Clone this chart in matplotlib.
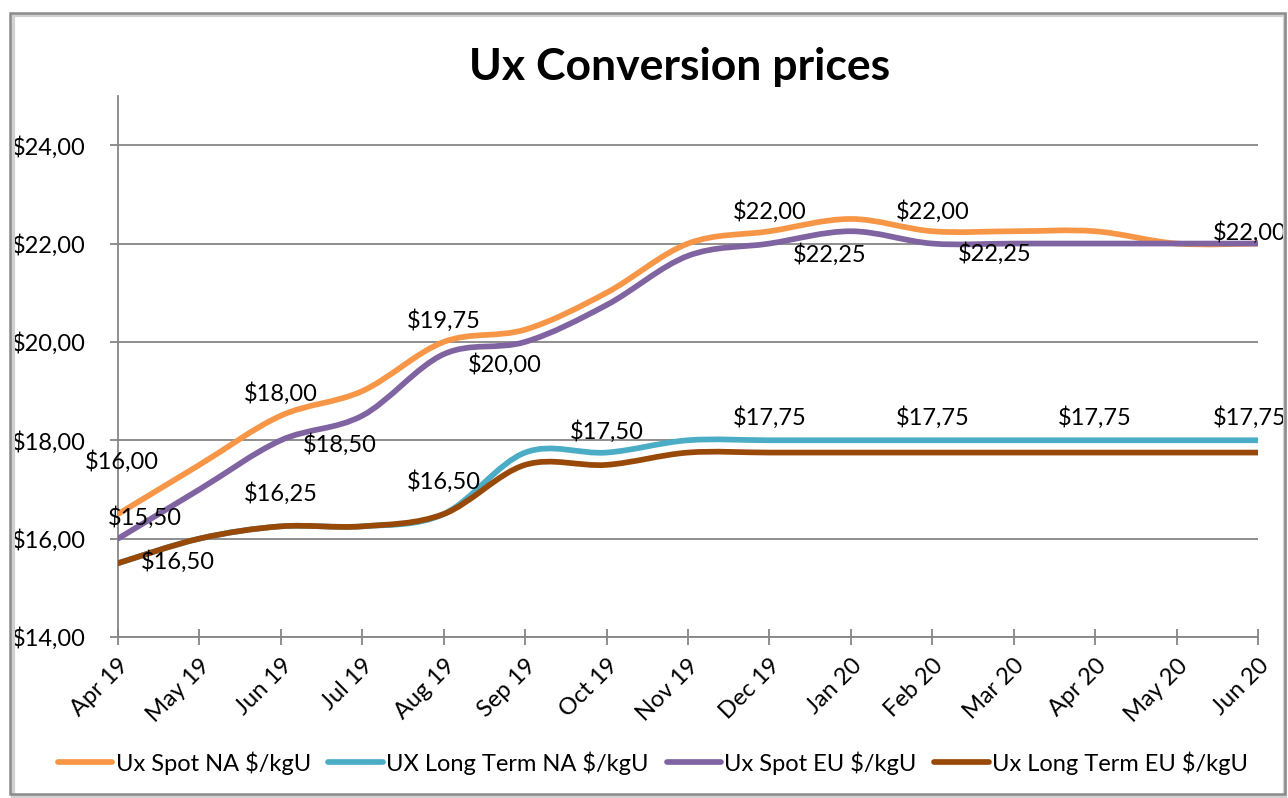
import matplotlib
matplotlib.use("Agg")
import matplotlib.pyplot as plt
from matplotlib.path import Path
from matplotlib.patches import PathPatch, Rectangle
from matplotlib.lines import Line2D
from matplotlib.ticker import FuncFormatter, FixedLocator

plt.rcParams["font.family"] = ["Lato", "DejaVu Sans"]

months = ["Apr 19", "May 19", "Jun 19", "Jul 19", "Aug 19", "Sep 19", "Oct 19",
          "Nov 19", "Dec 19", "Jan 20", "Feb 20", "Mar 20", "Apr 20", "May 20", "Jun 20"]

spot_na = [16.50, 17.50, 18.50, 19.00, 20.00, 20.25, 21.00, 22.00,
           22.25, 22.50, 22.25, 22.25, 22.25, 22.00, 22.00]
lt_na = [15.50, 16.00, 16.25, 16.25, 16.50, 17.75, 17.75, 18.00,
         18.00, 18.00, 18.00, 18.00, 18.00, 18.00, 18.00]
spot_eu = [16.00, 17.00, 18.00, 18.50, 19.75, 20.00, 20.75, 21.75,
           22.00, 22.25, 22.00, 22.00, 22.00, 22.00, 22.00]
lt_eu = [15.50, 16.00, 16.25, 16.25, 16.50, 17.50, 17.50, 17.75,
         17.75, 17.75, 17.75, 17.75, 17.75, 17.75, 17.75]

series_names = ["Ux Spot NA $/kgU", "UX Long Term NA $/kgU",
                "Ux Spot EU $/kgU", "Ux Long Term EU $/kgU"]
series_colors = ["#F79646", "#4BACC6", "#8064A2", "#984807"]

# data labels as shown on the chart: (series index, month index, text)
label_texts = [
    (0, 0, "$16,00"), (2, 0, "$15,50"), (3, 0, "$16,50"),
    (0, 2, "$18,00"), (2, 2, "$18,50"), (3, 2, "$16,25"),
    (0, 4, "$19,75"), (2, 5, "$20,00"), (1, 4, "$16,50"),
    (1, 6, "$17,50"), (0, 8, "$22,00"), (2, 9, "$22,25"),
    (1, 8, "$17,75"), (0, 10, "$22,00"), (2, 11, "$22,25"),
    (1, 10, "$17,75"), (1, 12, "$17,75"), (2, 14, "$22,00"),
    (1, 14, "$17,75"),
]
# pixel offsets of each label centre from its point
label_offsets = [
    (4, 53), (27, 21), (60, 2),
    (0, 22), (59, -4), (0, 33),
    (0, 21), (-20, -23), (0, 33),
    (0, 21), (0, 20), (-21, -23),
    (0, 23), (0, 20), (-19, -10),
    (0, 23), (0, 23), (-8, 11),
    (-8, 23),
]


def smooth_path(xs, ys):
    """Excel-like smoothed line as cubic Bezier segments."""
    pts = list(zip(xs, ys))
    n = len(pts)
    verts = [pts[0]]
    codes = [Path.MOVETO]
    for i in range(n - 1):
        p0 = pts[i - 1] if i > 0 else pts[i]
        p1 = pts[i]
        p2 = pts[i + 1]
        p3 = pts[i + 2] if i + 2 < n else pts[i + 1]
        c1 = (p1[0] + (p2[0] - p0[0]) / 6, p1[1] + (p2[1] - p0[1]) / 6)
        c2 = (p2[0] - (p3[0] - p1[0]) / 6, p2[1] - (p3[1] - p1[1]) / 6)
        verts += [c1, c2, p2]
        codes += [Path.CURVE4] * 3
    return Path(verts, codes)


fig = plt.figure(figsize=(12.88, 7.98), dpi=100)
ax = fig.add_axes([118 / 1288, 1 - 637 / 798, 1140 / 1288, 541 / 798])

grey = "#868686"
fs = 17
x = list(range(len(months)))
all_series = [spot_na, lt_na, spot_eu, lt_eu]
draw_order = [1, 3, 0, 2]
for k in draw_order:
    patch = PathPatch(smooth_path(x, all_series[k]), fill=False,
                      edgecolor=series_colors[k], lw=4.1,
                      capstyle="round", joinstyle="round", zorder=3 + k)
    ax.add_patch(patch)

ax.set_xlim(0, len(months) - 1)
ax.set_ylim(14, 25)
ax.yaxis.set_major_locator(FixedLocator([14, 16, 18, 20, 22, 24]))
ax.yaxis.set_major_formatter(FuncFormatter(lambda v, p: f"${v:.2f}".replace(".", ",")))
ax.set_xticks(x)
ax.set_xticklabels(months, rotation=45, ha="right", va="top",
                   rotation_mode="anchor", fontsize=fs)
ax.tick_params(axis="x", direction="inout", length=12, width=1.3, color=grey, pad=7)
ax.tick_params(axis="y", direction="out", length=6, width=1.3, color=grey,
               labelsize=fs, pad=17)
ax.grid(axis="y", color=grey, lw=1.3)
ax.set_axisbelow(True)
for side in ["top", "right"]:
    ax.spines[side].set_visible(False)
for side in ["left", "bottom"]:
    ax.spines[side].set_color(grey)
    ax.spines[side].set_linewidth(1.3)

for (k, i, txt), (dx, dy) in zip(label_texts, label_offsets):
    ax.annotate(txt, (x[i], all_series[k][i]), xytext=(dx * 0.72, dy * 0.72),
                textcoords="offset points", ha="center", va="center",
                fontsize=fs, zorder=10)

fig.text(680 / 1288, 1 - 67 / 798, "Ux Conversion prices", ha="center", va="center",
         fontsize=32, fontweight="bold")

handles = [Line2D([], [], color=c, lw=4.1, solid_capstyle="round") for c in series_colors]
fig.legend(handles, series_names, loc="center", bbox_to_anchor=(653 / 1288, 1 - 763 / 798),
           ncol=4, frameon=False, fontsize=fs, handlelength=2.3,
           handletextpad=0.15, columnspacing=0.75)

# chart area border with a light shadow on the left
fig.patches.append(Rectangle((13 / 1288, 2 / 798), 1272 / 1288, 781 / 798,
                             transform=fig.transFigure, fill=False,
                             edgecolor="#d0d0d0", lw=3, zorder=0))
fig.patches.append(Rectangle((10 / 1288, 4 / 798), 1275 / 1288, 781 / 798,
                             transform=fig.transFigure, fill=False,
                             edgecolor="#8c8c8c", lw=1.8, zorder=1))

fig.savefig("out.png", dpi=100)
